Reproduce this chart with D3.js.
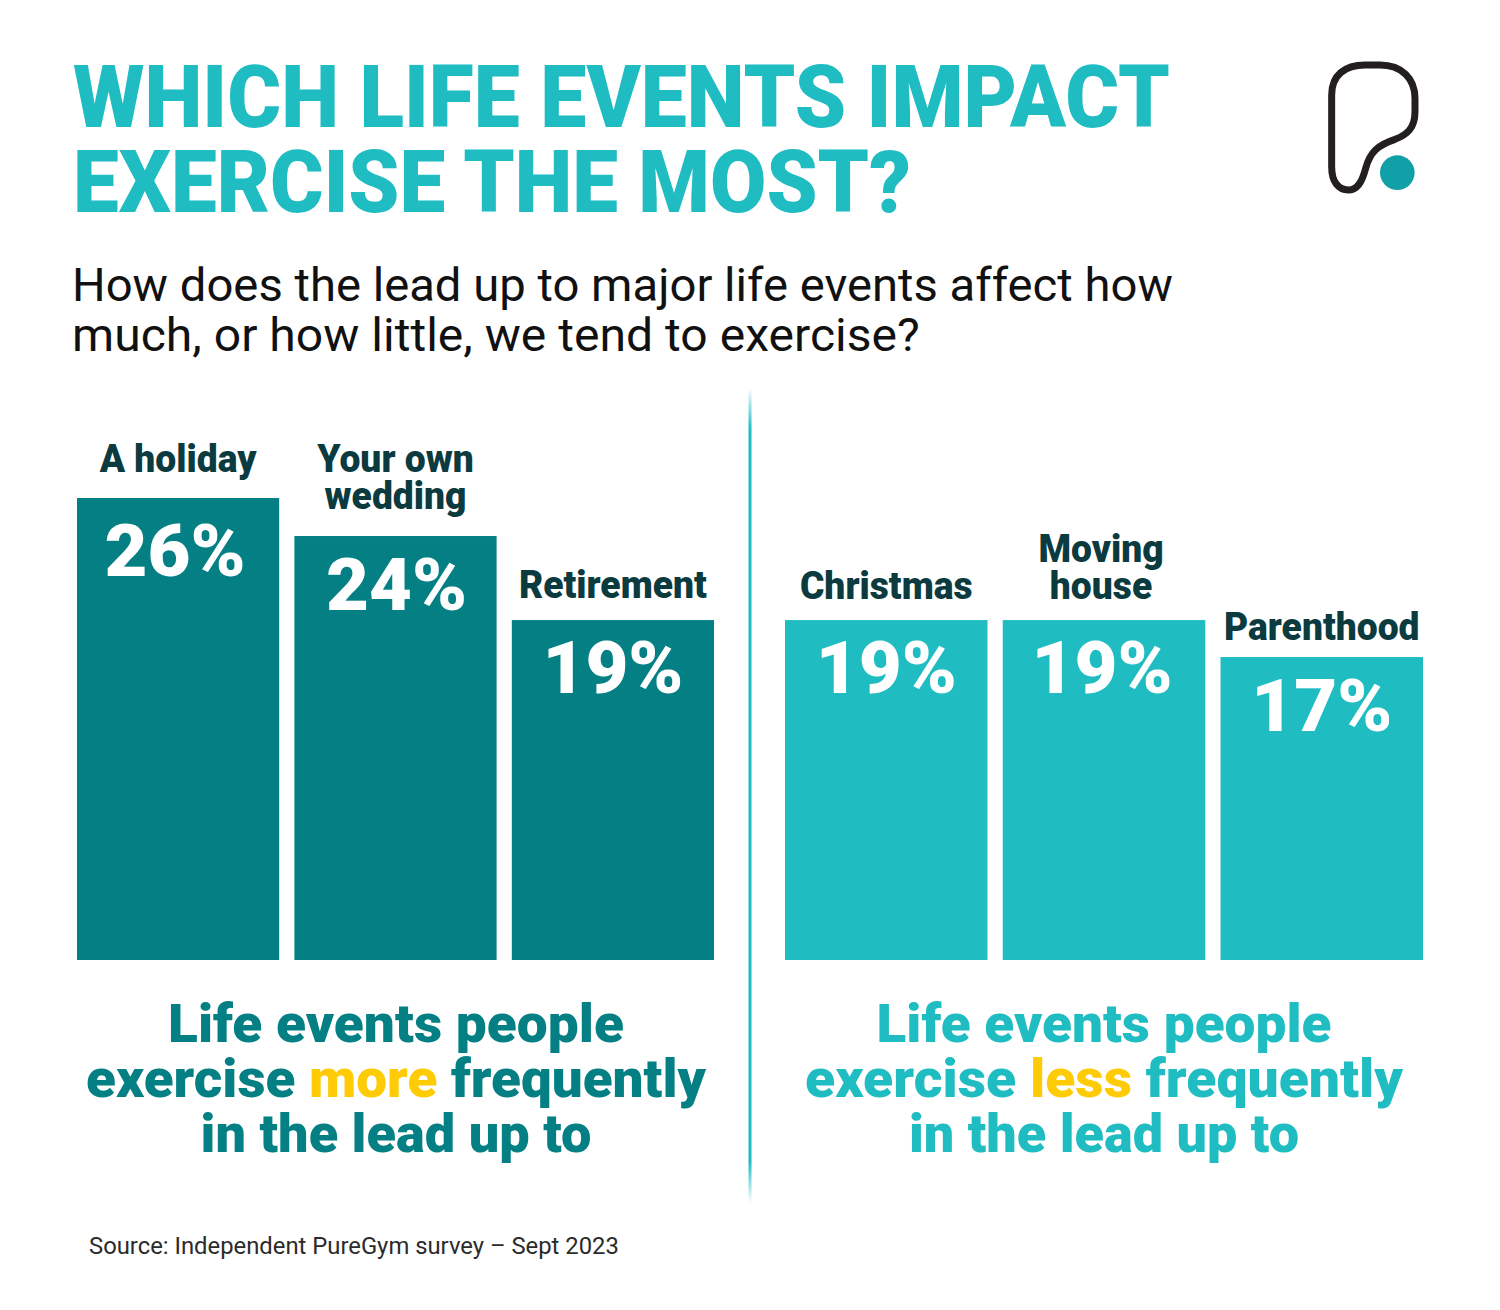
<!DOCTYPE html>
<html>
<head>
  <meta charset="utf-8">
  <title>Which life events impact exercise the most?</title>
  <script src="https://d3js.org/d3.v7.min.js"></script>
  <style>
    html, body { margin: 0; padding: 0; background: #fff; }
    svg { display: block; }
    text { font-family: Roboto, "Noto Sans", sans-serif; }
  </style>
</head>
<body>
  <svg id="chart" width="1500" height="1310"></svg>

  <script>
    // chart values: bar lengths as measured, labels as printed
    const moreEvents = ["A holiday", "Your own wedding", "Retirement"];
    const moreValues = [26, 23.86, 19.13];
    const moreLabels = ["26%", "24%", "19%"];
    const lessEvents = ["Christmas", "Moving house", "Parenthood"];
    const lessValues = [19.13, 19.13, 17.05];
    const lessLabels = ["19%", "19%", "17%"];

    const titleLines = ["WHICH LIFE EVENTS IMPACT", "EXERCISE THE MOST?"];
    const subtitleLines = [
      "How does the lead up to major life events affect how",
      "much, or how little, we tend to exercise?"
    ];
    const sourceText = "Source: Independent PureGym survey \u2013 Sept 2023";

    const dark = "#047f84";
    const light = "#1fbcc2";
    const labelColor = "#0b3a3f";
    const yellow = "#ffcb05";

    const svg = d3.select("#chart");

    const baseline = 960;
    const yScale = d3.scaleLinear().domain([0, 26]).range([baseline, 498]);

    // squeeze a text horizontally so that it is `w` wide (the original font is a narrow DIN)
    function place(text, x, y, w) {
      const natural = text.node().getComputedTextLength();
      text.attr("transform", `translate(${x},${y}) scale(${w / natural},1)`);
      return text;
    }

    // Title
    const titleW = [1097, 838];
    titleLines.forEach((line, i) => {
      const t = svg.append("text")
        .attr("font-size", 88)
        .attr("font-weight", 900)
        .attr("fill", light)
        .text(line);
      place(t, 73, 127 + i * 85, titleW[i]);
    });

    // Subtitle
    const subtitleW = [1101, 848];
    subtitleLines.forEach((line, i) => {
      const t = svg.append("text")
        .attr("font-size", 46)
        .attr("fill", "#111")
        .text(line);
      place(t, 72, 301 + i * 50, subtitleW[i]);
    });

    // Logo
    const logo = svg.append("g").attr("transform", "translate(1300,40) scale(0.3333)");
    logo.append("path")
      .attr("d", "M95,165 C95,105 135,75 195,75 L240,75 C305,75 345,115 345,175 L345,215 " +
        "C345,265 320,285 285,298 C235,315 210,335 197,385 C185,430 170,450 145,450 " +
        "C115,450 95,425 95,380 Z")
      .attr("fill", "none")
      .attr("stroke", "#231f20")
      .attr("stroke-width", 21);
    logo.append("circle")
      .attr("cx", 292).attr("cy", 398).attr("r", 52)
      .attr("fill", "#12a0a8");

    // Divider, fades out at both ends
    const fade = svg.append("defs").append("linearGradient")
      .attr("id", "fade")
      .attr("gradientUnits", "userSpaceOnUse")
      .attr("x1", 0).attr("x2", 0)
      .attr("y1", 388).attr("y2", 1203);
    [[0, 0], [0.05, 1], [0.95, 1], [1, 0]].forEach(s => {
      fade.append("stop")
        .attr("offset", s[0])
        .attr("stop-color", light)
        .attr("stop-opacity", s[1]);
    });
    svg.append("line")
      .attr("x1", 750).attr("x2", 750)
      .attr("y1", 388).attr("y2", 1203)
      .attr("stroke", "url(#fade)")
      .attr("stroke-width", 3);

    // One panel of bars
    // gaps = space between a bar top and its event label, drops = bar top to value baseline,
    // nudges = small x shifts of the texts
    function drawPanel(events, values, labels, range, color, gaps, drops, valueNudges, labelNudges) {
      const xScale = d3.scaleBand()
        .domain(events)
        .range(range)
        .paddingInner(0.07);

      const rows = events.map((name, i) => ({
        name,
        value: values[i],
        label: labels[i],
        gap: gaps[i],
        drop: drops[i],
        valueNudge: valueNudges[i],
        labelNudge: labelNudges[i]
      }));
      const g = svg.append("g");

      g.selectAll("rect")
        .data(rows)
        .join("rect")
        .attr("x", d => xScale(d.name))
        .attr("y", d => yScale(d.value))
        .attr("width", xScale.bandwidth())
        .attr("height", d => baseline - yScale(d.value))
        .attr("fill", color);

      g.selectAll("text.value")
        .data(rows)
        .join("text")
        .attr("class", "value")
        .attr("text-anchor", "middle")
        .attr("font-size", 73)
        .attr("font-weight", 900)
        .attr("fill", "#fff")
        .text(d => d.label)
        .each(function (d) {
          place(d3.select(this), xScale(d.name) + xScale.bandwidth() / 2 + d.valueNudge, yScale(d.value) + d.drop, 141);
        });

      rows.forEach(d => {
        // two word names break onto two lines, except "A holiday"
        const lines = d.name === "A holiday" ? [d.name] : d.name.split(/ (?=wedding|house)/);
        lines.forEach((line, i) => {
          const t = g.append("text")
            .attr("class", "event")
            .attr("text-anchor", "middle")
            .attr("font-size", 39)
            .attr("font-weight", 900)
            .attr("fill", labelColor)
            .text(line);
          const natural = t.node().getComputedTextLength();
          place(t, xScale(d.name) + xScale.bandwidth() / 2 + d.labelNudge,
            yScale(d.value) - d.gap - (lines.length - 1 - i) * 37, natural * 0.955);
        });
      });
    }

    drawPanel(moreEvents, moreValues, moreLabels, [77, 714], dark, [26, 27, 22], [78, 74, 73], [-3, 1, 0], [0, 0, 0]);
    drawPanel(lessEvents, lessValues, lessLabels, [785, 1423], light, [21, 21, 17], [73, 73, 74], [0, -2, 0], [0, -3, 0]);

    // Panel captions
    function drawCaption(word, color, x, widths) {
      const lines = [
        [["Life events people", color]],
        [["exercise ", color], [word, yellow], [" frequently", color]],
        [["in the lead up to", color]]
      ];
      lines.forEach((parts, i) => {
        const t = svg.append("text")
          .attr("font-size", 54)
          .attr("font-weight", 900)
          .attr("text-anchor", "middle")
          .attr("xml:space", "preserve");
        parts.forEach(p => t.append("tspan").attr("fill", p[1]).text(p[0]));
        place(t, x, 1042 + i * 55, widths[i]);
      });
    }

    drawCaption("more", dark, 396, [456, 620, 391]);
    drawCaption("less", light, 1104, [455, 598, 390]);

    // Source
    const source = svg.append("text")
      .attr("font-size", 24)
      .attr("fill", "#2b2b2b")
      .text(sourceText);
    place(source, 89, 1254, 530);
  </script>
</body>
</html>
